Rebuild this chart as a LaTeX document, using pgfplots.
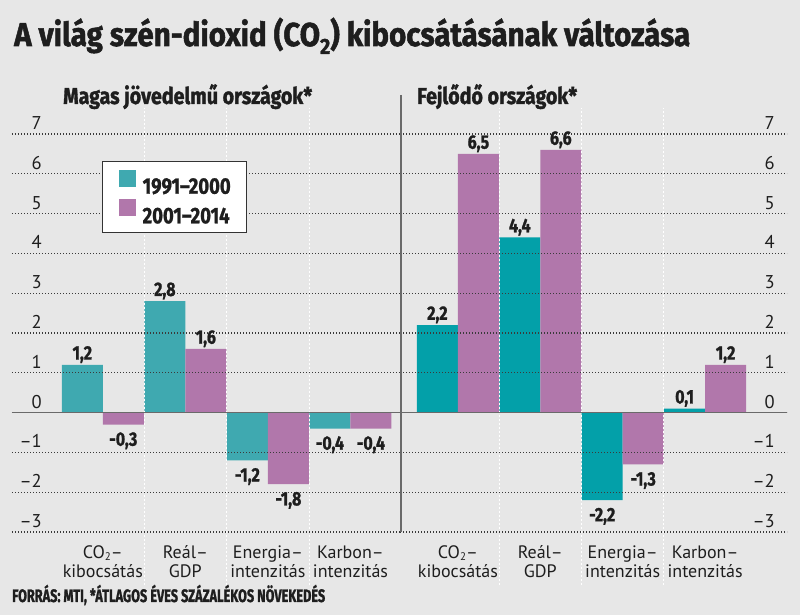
\documentclass[border=0pt]{standalone}
\usepackage{pgfplots}
\pgfplotsset{compat=1.18}
\usepackage{fontspec}
\setmainfont{PT Sans}
\newfontfamily\headfont[FakeBold=1.3, BoldFeatures={FakeBold=1.6}]{Fira Sans}
\newfontfamily\condfont[FakeStretch=0.82, FakeBold=0.9, BoldFeatures={FakeBold=1.1}]{Fira Sans}

\definecolor{bg}{HTML}{E7E7E7}
\definecolor{tealL}{HTML}{3FA9B0}
\definecolor{tealR}{HTML}{03A0A9}
\definecolor{lilac}{HTML}{B177AB}
\definecolor{gridc}{HTML}{3A3A3A}
\definecolor{zeroc}{HTML}{6A6A6A}
\definecolor{ink}{HTML}{1E1E1E}

\tikzset{sep/.style={white, line width=1pt, dash pattern=on 2pt off 2pt}}
\newcommand{\cotwo}{CO\raisebox{-2pt}[0pt][0pt]{\fontsize{11}{11}\selectfont 2}}

\pgfplotsset{
  co2panel/.style={
    scale only axis, height=398pt,
    ymin=-3, ymax=7, enlargelimits=false,
    ybar=0pt, bar width=41pt,
    axis line style={draw=none}, tick style={draw=none},
    ytick={-3,...,7}, yticklabels={–3,–2,–1,0,1,2,3,4,5,6,7},
    ymajorgrids,
    grid style={gridc, line width=1.2pt, dash pattern=on 1.4pt off 1.6pt},
    extra y ticks={0}, extra y tick labels={},
    extra y tick style={grid style={zeroc, solid, line width=1.6pt}},
    xtick={0,1,2,3},
    xticklabels={{\cotwo–\\kibocsátás},{Reál–\\GDP},{Energia–\\intenzitás},{Karbon–\\intenzitás}},
    xticklabel style={align=center, anchor=north, inner sep=0pt, yshift=-9.5pt,
      font=\fontsize{18}{19}\selectfont, text=ink},
    yticklabel style={font=\fontsize{18.5}{18.5}\selectfont, inner sep=0pt, text=ink,
      anchor=base east, yshift=4.5pt},
    nodes near coords, nodes near coords align=vertical,
    every node near coord/.append style={font=\condfont\bfseries\fontsize{19.5}{19.5}\selectfont,
      inner xsep=0pt, inner ysep=5pt, text depth=0pt, text height=16pt, text=ink},
    /pgf/number format/use comma, /pgf/number format/fixed,
    /pgf/number format/fixed zerofill, /pgf/number format/precision=1,
    /pgf/number format/assume math mode=true,
    axis on top, clip=false,
  },
}

\begin{document}
\begin{tikzpicture}[x=1pt, y=1pt]
\fill[bg] (0,0) rectangle (800,615);
\useasboundingbox (0,0) rectangle (800,615);

% High-income countries
\begin{axis}[co2panel, at={(12pt,83pt)}, anchor=south west, width=388pt,
  xmin=-1.1, xmax=3.6,
  yticklabel style={xshift=30pt},
  legend style={at={(axis description cs:0.232,0.932)}, anchor=north west,
    draw=black!80, line width=1.3pt, fill=white, inner xsep=16pt, inner ysep=8pt,
    row sep=4pt, font=\condfont\bfseries\fontsize{22.5}{22.5}\selectfont, text=ink,
    nodes={inner sep=0pt}},
  legend cell align=left,
  legend image code/.code={\fill[#1] (0pt,0pt) rectangle (17pt,17pt);},
  /tikz/every odd column/.append style={column sep=7pt},
]
\addplot[fill=tealL, draw=none] coordinates {(0,1.2) (1,2.8) (2,-1.2) (3,-0.4)};
\addplot[fill=lilac, draw=none] coordinates {(0,-0.3) (1,1.6) (2,-1.8) (3,-0.4)};
\draw[sep] (axis cs:0.5,-4.33) -- (axis cs:0.5,7.65);
\draw[sep] (axis cs:1.5,-4.33) -- (axis cs:1.5,7.65);
\draw[sep] (axis cs:2.5,-4.33) -- (axis cs:2.5,7.65);
\legend{1991–2000\hspace{5pt}, 2001–2014\hspace{5pt}}
\end{axis}

% Developing countries
\begin{axis}[co2panel, at={(400pt,83pt)}, anchor=south west, width=387pt,
  xmin=-0.703, xmax=3.994,
  yticklabel pos=right,
  yticklabel style={anchor=base east, xshift=-12pt},
]
\addplot[fill=tealR, draw=none] coordinates {(0,2.2) (1,4.4) (2,-2.2) (3,0.1)};
\addplot[fill=lilac, draw=none] coordinates {(0,6.5) (1,6.6) (2,-1.3) (3,1.2)};
\draw[sep] (axis cs:0.5,-4.33) -- (axis cs:0.5,7.65);
\draw[sep] (axis cs:1.5,-4.33) -- (axis cs:1.5,7.65);
\draw[sep] (axis cs:2.5,-4.33) -- (axis cs:2.5,7.65);
\end{axis}

% panel divider
\draw[zeroc, line width=1.8pt] (401,520) -- (401,83);

% headings
\node[anchor=base west, inner sep=0pt, text=ink] at (14,569)
  {\resizebox{676pt}{\height}{\headfont\bfseries\fontsize{33}{33}\selectfont
   A világ szén-dioxid (CO\raisebox{-8pt}{\fontsize{22}{22}\selectfont 2}) kibocsátásának változása}};
\node[anchor=base west, inner sep=0pt, text=ink] at (63,511)
  {\resizebox{249pt}{\height}{\headfont\bfseries\fontsize{23}{23}\selectfont Magas jövedelmű országok*}};
\node[anchor=base west, inner sep=0pt, text=ink] at (417,511)
  {\resizebox{160pt}{\height}{\headfont\bfseries\fontsize{23}{23}\selectfont Fejlődő országok*}};
\node[anchor=base west, inner sep=0pt, text=ink] at (12,13)
  {\resizebox{313pt}{\height}{\headfont\bfseries\fontsize{18}{18}\selectfont FORRÁS: MTI, *ÁTLAGOS ÉVES SZÁZALÉKOS NÖVEKEDÉS}};
\end{tikzpicture}
\end{document}
